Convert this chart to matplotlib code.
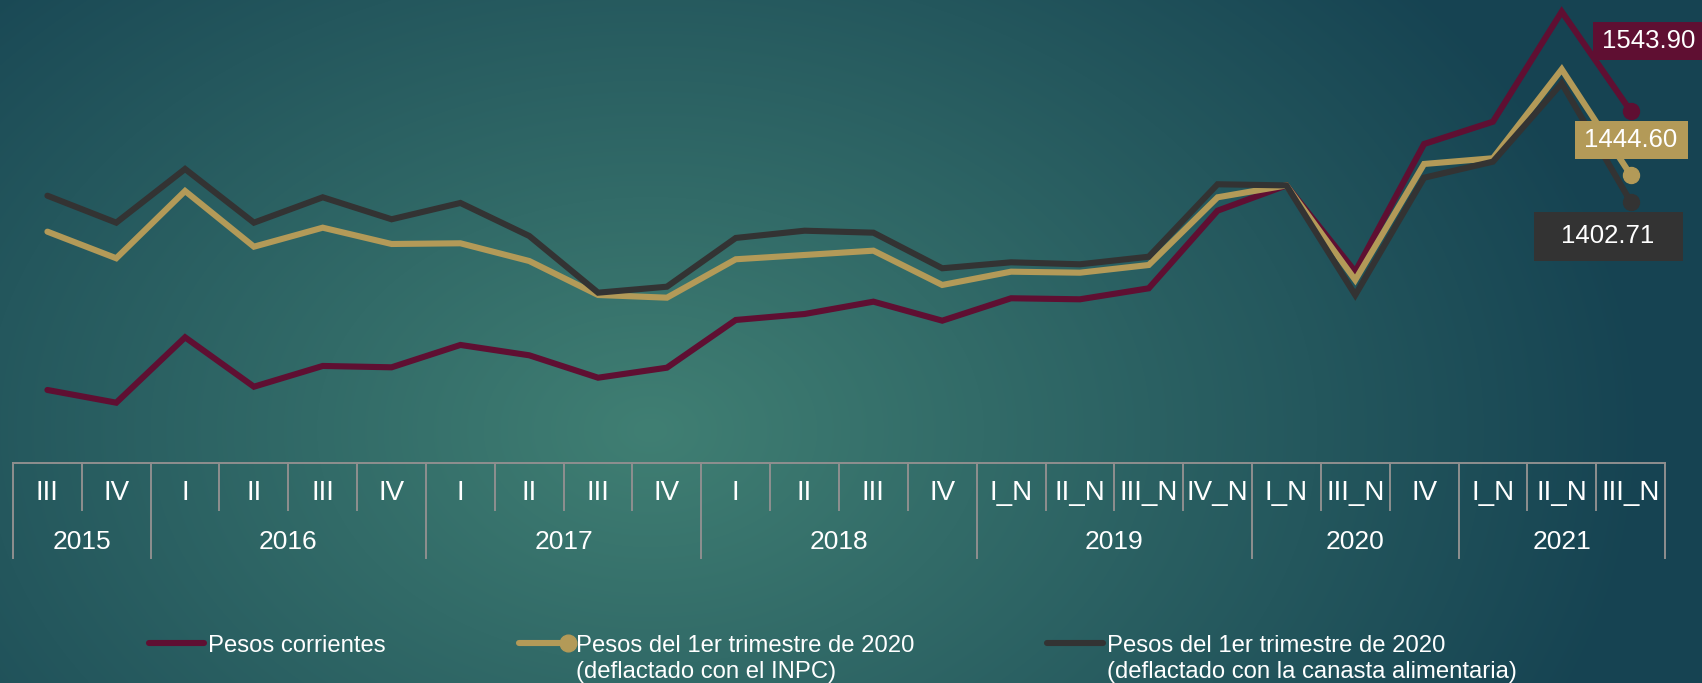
import numpy as np
import matplotlib
matplotlib.use('Agg')
import matplotlib.pyplot as plt
from matplotlib import transforms as mtransforms
from matplotlib.patches import Rectangle
from matplotlib.lines import Line2D

plt.rcParams['font.family'] = ['Liberation Sans', 'DejaVu Sans']

# ---------------- data ----------------
quarters = ['III', 'IV', 'I', 'II', 'III', 'IV', 'I', 'II', 'III', 'IV',
            'I', 'II', 'III', 'IV', 'I_N', 'II_N', 'III_N', 'IV_N',
            'I_N', 'III_N', 'IV', 'I_N', 'II_N', 'III_N']
years = ['2015', '2016', '2017', '2018', '2019', '2020', '2021']
year_counts = [2, 4, 4, 4, 4, 3, 3]

pesos_corrientes = [1109.5, 1089.7, 1191.5, 1114.6, 1146.9, 1144.8, 1179.6, 1163.5,
                    1128.6, 1144.2, 1218.5, 1227.8, 1247.0, 1217.4, 1252.3, 1250.7,
                    1267.8, 1388.7, 1428.0, 1293.7, 1492.5, 1527.2, 1698.5, 1543.90]
pesos_inpc = [1356.0, 1314.6, 1419.3, 1332.6, 1362.2, 1336.8, 1337.9, 1310.3,
              1257.4, 1253.2, 1313.0, 1319.7, 1326.4, 1273.0, 1293.7, 1292.1,
              1304.1, 1409.5, 1428.0, 1280.8, 1461.4, 1470.3, 1608.8, 1444.60]
pesos_canasta = [1412.0, 1370.0, 1453.6, 1370.0, 1409.5, 1375.3, 1400.7, 1349.3,
                 1261.0, 1270.3, 1346.2, 1357.5, 1354.4, 1299.0, 1308.3, 1305.2,
                 1317.0, 1429.8, 1428.0, 1257.4, 1440.0, 1465.0, 1587.0, 1402.71]
end_labels = ['1543.90', '1444.60', '1402.71']
legend_labels = [['Pesos corrientes'],
                 ['Pesos del 1er trimestre de 2020', '(deflactado con el INPC)'],
                 ['Pesos del 1er trimestre de 2020', '(deflactado con la canasta alimentaria)']]

# ---------------- style ----------------
W, H = 1702, 683
RED = '#5f0f32'
GOLD = '#b39a58'
DARK = '#333333'
GRID = '#8f8f8f'

fig = plt.figure(figsize=(W / 100, H / 100), dpi=100)

def fx(px):
    return px / W

def fy(py):
    return 1 - py / H

# background gradient
bg = fig.add_axes([0, 0, 1, 1], zorder=-10)
yy, xx = np.mgrid[0:H, 0:W]
cx, cy, rx, ry = 650, 430, 1000, 700
t = np.sqrt(((xx - cx) / rx) ** 2 + ((yy - cy) / ry) ** 2)
t = np.clip(t, 0, 1)[..., None]
light = np.array([0x40, 0x7f, 0x73]) / 255
dark = np.array([0x16, 0x43, 0x52]) / 255
img = light * (1 - t) + dark * t
bg.imshow(img, aspect='auto', extent=[0, 1, 0, 1], origin='upper')
bg.axis('off')

# main axes
ax_top, ax_bot = 0, 463
ax_left, ax_right = 13, 1665
ax = fig.add_axes([fx(ax_left), fy(ax_bot), (ax_right - ax_left) / W, (ax_bot - ax_top) / H])
ax.set_facecolor('none')
for s in ax.spines.values():
    s.set_visible(False)
ax.set_xticks([])
ax.set_yticks([])
n = len(quarters)
x = np.arange(n)
ax.set_xlim(-0.5, n - 0.5)
ax.set_ylim(995.8, 1716.7)

series = [(pesos_corrientes, RED), (pesos_inpc, GOLD), (pesos_canasta, DARK)]
for vals, col in series:
    ax.plot(x, vals, color=col, lw=4.4, solid_capstyle='round', solid_joinstyle='miter', zorder=3)
    ax.plot([x[-1]], [vals[-1]], 'o', color=col, ms=11.5, zorder=4)

# category "table" axis
tr = mtransforms.blended_transform_factory(ax.transData, fig.transFigure)
ax.plot([-0.5, n - 0.5], [fy(463)] * 2, color=GRID, lw=1.4, transform=tr, clip_on=False)
year_bounds = np.concatenate([[0], np.cumsum(year_counts)])
for b in range(n + 1):
    bottom = 558 if b in year_bounds else 510
    ax.plot([b - 0.5, b - 0.5], [fy(463), fy(bottom)], color=GRID, lw=1.4,
            transform=tr, clip_on=False)
for i, q in enumerate(quarters):
    ax.text(i, fy(493), q, transform=tr, ha='center', va='center', color='white', fontsize=20)
for k, yr in enumerate(years):
    mid = (year_bounds[k] + year_bounds[k + 1]) / 2 - 0.5
    ax.text(mid, fy(542), yr, transform=tr, ha='center', va='center', color='white', fontsize=19)

# end-value labels (boxes positioned relative to last point, in pixels)
ident = mtransforms.IdentityTransform()
box_specs = [  # (rect dx, rect dy, w, h, text dx, text dy)
    (-38, 51, 112, 38.3, 18, 70),
    (-56, 15.7, 113, 38.3, 0.5, 35),
    (-97, -59, 149, 48.7, -22.5, -34.7),
]
for (vals, col), lab, (rdx, rdy, rw, rh, tdx, tdy) in zip(series, end_labels, box_specs):
    px, py = ax.transData.transform((x[-1], vals[-1]))
    rect = Rectangle((px + rdx, py + rdy), rw, rh, facecolor=col, edgecolor='none',
                     transform=ident, zorder=6)
    fig.add_artist(rect)
    fig.text(px + tdx, py + tdy, lab, transform=ident, ha='center', va='center',
             color='white', fontsize=18.5, zorder=7)

# legend (manual)
leg_specs = [  # (line x0, x1, text x, marker)
    (149, 204, 208, False),
    (519, 568, 576, True),
    (1047, 1103, 1107, False),
]
for (vals, col), lines, (x0, x1, tx, mk) in zip(series, legend_labels, leg_specs):
    fig.add_artist(Line2D([fx(x0), fx(x1)], [fy(643)] * 2, transform=fig.transFigure,
                          color=col, lw=4.4, solid_capstyle='round'))
    if mk:
        fig.add_artist(Line2D([fx(x1)], [fy(643)], transform=fig.transFigure,
                              marker='o', ms=12, color=col, lw=0))
    for j, line in enumerate(lines):
        fig.text(fx(tx), fy(652 + 26 * j), line, ha='left', va='baseline',
                 color='white', fontsize=17.2)

fig.savefig('out.png', dpi=100)
